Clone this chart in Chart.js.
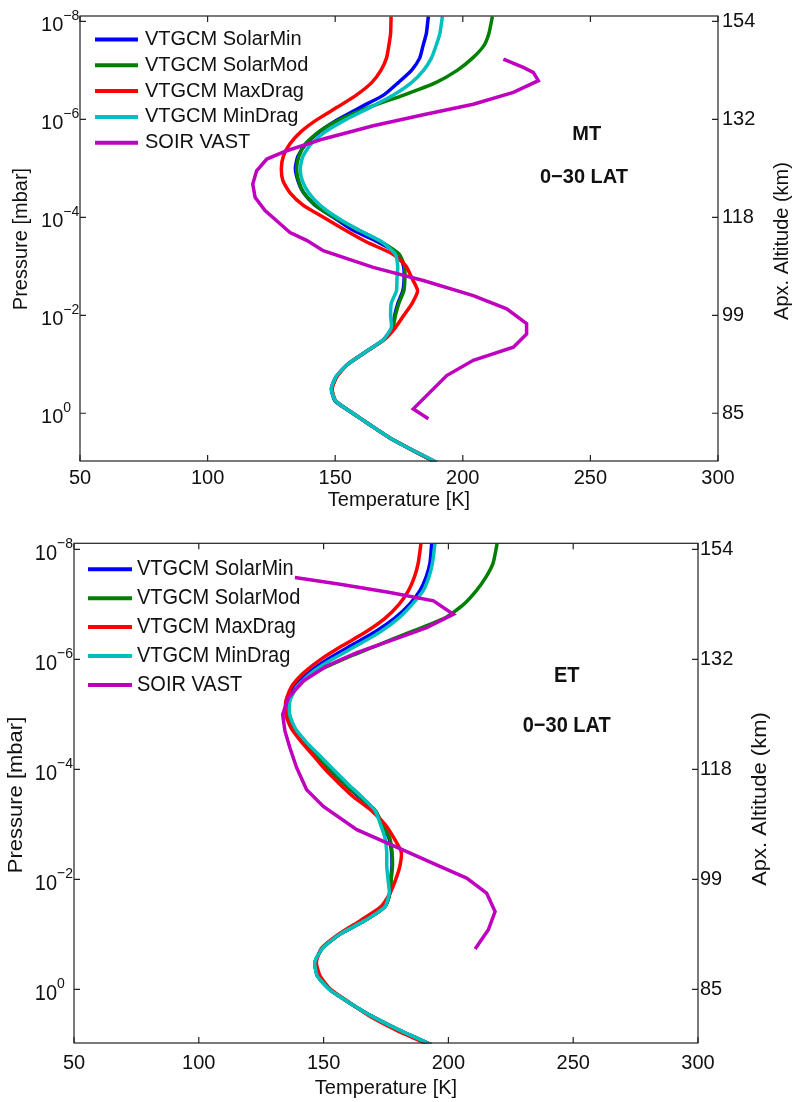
<!DOCTYPE html>
<html><head><meta charset="utf-8">
<script src="https://cdn.jsdelivr.net/npm/chart.js@4.4.1/dist/chart.umd.min.js"></script>
<style>
html,body{margin:0;padding:0;background:#fff;width:794px;height:1102px;overflow:hidden;position:relative}
canvas{position:absolute;left:0}
#c1{top:0}
#c2{top:525px}
</style></head><body>
<canvas id="c1" width="794" height="520"></canvas>
<canvas id="c2" width="794" height="577"></canvas>
<script>
// ---- data ----
const pressureLevels = [7.94e-9, 1.78e-8, 3.16e-8, 5.62e-8, 1e-7, 1.78e-7, 3.16e-7, 5.62e-7, 1e-6, 1.78e-6, 3.16e-6, 5.62e-6, 1e-5, 1.78e-5, 3.16e-5, 5.62e-5, 1e-4, 1.78e-4, 3.16e-4, 5.62e-4, 1e-3, 1.78e-3, 3.16e-3, 5.62e-3, 1e-2, 1.78e-2, 3.16e-2, 5.62e-2, 0.1, 0.178, 0.316, 0.562, 1, 1.78, 3.16, 5.62, 10];

const mtSolarMin = [186.5, 185.7, 184.4, 183.1, 179.9, 174.7, 169.1, 160.0, 151.2, 143.9, 138.6, 135.4, 134.4, 135.4, 137.6, 142.0, 149.3, 156.5, 166.5, 174.8, 176.8, 177.0, 176.5, 174.6, 173.3, 172.4, 168.9, 161.9, 154.9, 150.4, 148.5, 150.0, 156.9, 164.0, 171.3, 180.1, 189.4];
const mtSolarMod = [211.6, 210.2, 208.2, 203.8, 197.8, 189.4, 177.1, 163.4, 151.9, 143.6, 138.3, 135.8, 134.9, 135.6, 137.7, 142.2, 149.6, 158.9, 168.0, 175.0, 177.2, 177.3, 176.9, 175.0, 173.6, 172.6, 169.0, 161.9, 154.9, 150.6, 148.7, 150.1, 156.9, 164.0, 171.3, 180.1, 189.4];
const mtMaxDrag = [171.9, 171.7, 171.0, 170.1, 167.9, 164.3, 158.4, 150.9, 143.0, 136.6, 132.3, 129.7, 128.9, 129.5, 132.3, 137.4, 145.4, 153.5, 162.1, 172.5, 177.8, 180.1, 182.3, 180.2, 176.9, 173.6, 169.2, 161.9, 154.9, 150.7, 148.8, 150.2, 156.9, 164.0, 171.3, 180.2, 189.5];
const mtMinDrag = [192.0, 191.0, 189.5, 187.7, 184.6, 179.9, 173.0, 163.9, 154.3, 146.2, 140.6, 137.4, 136.3, 137.1, 139.6, 144.0, 150.6, 158.8, 168.2, 173.5, 174.5, 174.2, 174.0, 172.0, 171.7, 172.0, 168.9, 161.9, 154.9, 150.4, 148.5, 150.2, 156.9, 164.0, 171.3, 180.2, 189.9];
const mtSoirP = [5.89e-8, 8.71e-8, 1.10e-7, 1.62e-7, 2.82e-7, 4.90e-7, 7.76e-7, 1.35e-6, 2.51e-6, 4.37e-6, 6.46e-6, 1.12e-5, 2.09e-5, 3.89e-5, 7.24e-5, 1.35e-4, 2.04e-4, 2.95e-4, 4.79e-4, 1.05e-3, 1.95e-3, 3.98e-3, 7.41e-3, 1.48e-2, 2.40e-2, 4.47e-2, 8.32e-2, 0.170, 0.813, 1.29];
const mtSoirT = [215.9, 223.7, 227.6, 229.6, 219.8, 204.1, 185.9, 164.9, 145.3, 131.0, 123.2, 119.2, 117.7, 118.6, 122.5, 128.4, 132.3, 138.8, 145.3, 164.9, 184.5, 204.1, 217.2, 225.0, 225.0, 219.8, 204.1, 193.7, 180.6, 186.5];

const etSolarMin = [193.3, 192.6, 191.1, 188.6, 184.4, 178.5, 170.7, 161.0, 151.5, 143.8, 138.4, 135.8, 135.6, 137.8, 142.0, 147.2, 152.3, 158.0, 164.2, 170.6, 173.4, 176.2, 177.2, 177.4, 176.9, 176.5, 174.5, 166.5, 156.4, 149.6, 146.6, 147.5, 152.4, 160.6, 169.8, 180.7, 193.0];
const etSolarMod = [219.5, 217.9, 215.1, 211.2, 206.1, 198.5, 184.9, 171.3, 157.8, 146.0, 139.3, 136.4, 136.0, 137.8, 142.0, 147.3, 152.4, 158.1, 164.6, 170.7, 173.6, 176.5, 177.4, 177.6, 177.1, 176.6, 174.5, 166.5, 156.4, 149.6, 146.6, 147.5, 152.4, 160.6, 169.8, 180.7, 193.0];
const etMaxDrag = [189.0, 187.9, 186.4, 184.0, 180.2, 174.7, 167.0, 157.6, 148.9, 141.9, 137.1, 134.9, 134.8, 137.0, 141.1, 145.9, 150.6, 156.1, 162.0, 169.2, 174.6, 178.2, 181.1, 180.6, 178.9, 176.6, 172.9, 164.7, 155.9, 149.2, 147.1, 148.5, 152.8, 160.7, 168.9, 179.5, 192.0];
const etMinDrag = [194.6, 193.6, 192.2, 189.9, 185.5, 180.1, 172.7, 163.3, 153.4, 145.0, 139.3, 136.5, 136.4, 138.6, 143.0, 148.4, 153.9, 159.4, 165.3, 170.6, 172.8, 174.6, 175.3, 175.3, 175.8, 176.3, 174.5, 166.5, 156.4, 149.6, 146.5, 147.4, 152.3, 160.6, 169.8, 180.8, 193.0];
const etSoirP = [3.26e-8, 4.32e-8, 6.11e-8, 8.65e-8, 1.52e-7, 2.65e-7, 4.62e-7, 7.53e-7, 1.32e-6, 2.47e-6, 4.97e-6, 1.0e-5, 2.0e-5, 4.04e-5, 9.33e-5, 2.34e-4, 4.71e-4, 1.25e-3, 2.77e-3, 5.82e-3, 9.46e-3, 1.77e-2, 3.84e-2, 8.26e-2, 0.185];
const etSoirT = [138.5, 156.6, 176.6, 194.0, 202.0, 191.3, 176.6, 163.3, 151.2, 141.9, 135.9, 133.6, 134.5, 136.5, 139.2, 143.2, 149.9, 163.3, 180.6, 196.6, 207.3, 215.3, 218.7, 216.0, 210.7];

const seriesLabels = ['VTGCM SolarMin', 'VTGCM SolarMod', 'VTGCM MaxDrag', 'VTGCM MinDrag', 'SOIR VAST'];
const seriesColors = ['#0000FF', '#008000', '#FF0000', '#00BFBF', '#BF00BF'];
const tempTicks = [50, 100, 150, 200, 250, 300];
const pressureTicks = [1e-8, 1e-6, 1e-4, 1e-2, 1];
const pressureExponents = ['\u22128', '\u22126', '\u22124', '\u22122', '0'];
const altitudeLabels = ['154', '132', '118', '99', '85'];
const P_MIN = 7.76e-9, P_MAX = 9.44;

// ---- rendering ----
const FONT = '"Liberation Sans", Arial, Helvetica, sans-serif';
const TXT = '#111111';
const AXIS = '#222222';

function lineSet(i, temps, pres, tension) {
  return {
    label: seriesLabels[i],
    data: temps.map((t, k) => ({ x: t, y: pres[k] })),
    borderColor: seriesColors[i], backgroundColor: seriesColors[i],
    showLine: true, pointRadius: 0, pointHoverRadius: 0, borderWidth: 3.5,
    tension: tension, order: 4 - i, clip: 1
  };
}

function txt(ctx, s, x, y, sy, rot) {
  ctx.save();
  ctx.translate(x, y);
  if (rot) { ctx.rotate(rot); ctx.scale(sy, 1); } else { ctx.scale(1, sy); }
  ctx.fillText(s, 0, 0);
  ctx.restore();
}

function decor(o) {
  return {
    id: 'decor',
    afterDraw(chart) {
      const ctx = chart.ctx, a = chart.chartArea;
      const xs = chart.scales.x, ys = chart.scales.y;
      ctx.save();
      // frame + inward ticks
      ctx.strokeStyle = AXIS; ctx.lineWidth = 1.2;
      ctx.strokeRect(a.left, a.top, a.right - a.left, a.bottom - a.top);
      ctx.beginPath();
      tempTicks.forEach(v => {
        const px = xs.getPixelForValue(v);
        ctx.moveTo(px, a.bottom); ctx.lineTo(px, a.bottom - 6);
        ctx.moveTo(px, a.top); ctx.lineTo(px, a.top + 6);
      });
      pressureTicks.forEach(v => {
        const py = ys.getPixelForValue(v);
        ctx.moveTo(a.left, py); ctx.lineTo(a.left + 6, py);
        ctx.moveTo(a.right, py); ctx.lineTo(a.right - 6, py);
      });
      ctx.stroke();
      // left tick labels 10^n
      ctx.fillStyle = TXT;
      ctx.textBaseline = 'middle';
      pressureTicks.forEach((v, i) => {
        const py = ys.getPixelForValue(v);
        ctx.font = '20px ' + FONT; ctx.textAlign = 'right';
        txt(ctx, '10', a.left - o.expGap, py + 4 * o.sy, o.sy);
        ctx.font = '14px ' + FONT; ctx.textAlign = 'left';
        txt(ctx, pressureExponents[i], a.left - o.expGap, py - 5 * o.sy, o.sy);
      });
      // axis titles (rotated, bottom-to-top)
      ctx.font = '20px ' + FONT; ctx.textAlign = 'center';
      txt(ctx, 'Pressure [mbar]', o.lTitle[0], o.lTitle[1], o.sy, -Math.PI / 2);
      txt(ctx, 'Apx. Altitude (km)', o.rTitle[0], o.rTitle[1], o.sy, -Math.PI / 2);
      // annotations
      ctx.font = 'bold 20px ' + FONT;
      txt(ctx, o.tag, o.tagPos[0], o.tagPos[1], o.sy);
      txt(ctx, '0\u221230 LAT', o.latPos[0], o.latPos[1], o.sy);
      // legend
      ctx.font = '20px ' + FONT; ctx.textAlign = 'left';
      chart.data.datasets.forEach((ds, i) => {
        const y = o.legY0 + i * o.legDy;
        ctx.strokeStyle = ds.borderColor; ctx.lineWidth = 4;
        ctx.beginPath(); ctx.moveTo(o.legX0, y); ctx.lineTo(o.legX1, y); ctx.stroke();
        txt(ctx, ds.label, o.legTX, y, o.sy);
      });
      ctx.restore();
    }
  };
}

function build(canvas, datasets, o) {
  const tickFont = { family: FONT, size: 20 };
  return new Chart(canvas, {
    type: 'scatter',
    data: { datasets: datasets },
    options: {
      responsive: false, animation: false, devicePixelRatio: 1,
      layout: { padding: { top: o.top, left: 0, right: 0, bottom: 0 } },
      plugins: { legend: { display: false }, tooltip: { enabled: false } },
      scales: {
        x: {
          type: 'linear', position: 'bottom', min: 50, max: 300,
          afterBuildTicks(s) { s.ticks = tempTicks.map(v => ({ value: v })); },
          grid: { display: false, drawTicks: false }, border: { display: false },
          ticks: { font: tickFont, color: TXT, padding: o.xTickPad, maxRotation: 0, autoSkip: false },
          title: { display: true, text: 'Temperature [K]', font: tickFont, color: TXT, padding: { top: 0, bottom: o.xTitlePad } },
          afterFit(s) { s.height = o.xH; }
        },
        y: {
          type: 'logarithmic', position: 'left', min: P_MIN, max: P_MAX, reverse: true,
          grid: { display: false, drawTicks: false }, border: { display: false },
          ticks: { display: false },
          afterFit(s) { s.width = o.yW; }
        },
        y2: {
          type: 'logarithmic', position: 'right', min: P_MIN, max: P_MAX, reverse: true,
          grid: { display: false, drawTicks: false }, border: { display: false },
          afterBuildTicks(s) { s.ticks = pressureTicks.map(v => ({ value: v })); },
          ticks: { font: tickFont, color: TXT, padding: o.rTickPad, autoSkip: false, callback: (v, i) => altitudeLabels[i] },
          afterFit(s) { s.width = o.y2W; }
        }
      }
    },
    plugins: [decor(o)]
  });
}

build(document.getElementById('c1'), [
  lineSet(0, mtSolarMin, pressureLevels, 0.2),
  lineSet(1, mtSolarMod, pressureLevels, 0.2),
  lineSet(2, mtMaxDrag, pressureLevels, 0.2),
  lineSet(3, mtMinDrag, pressureLevels, 0.2),
  lineSet(4, mtSoirT, mtSoirP, 0)
], {
  top: 15.7, xH: 59, yW: 80, y2W: 76, xTickPad: 5, xTitlePad: 8, rTickPad: 4,
  sy: 1, expGap: 16.7, lTitle: [21, 239], rTitle: [782, 241],
  tag: 'MT', tagPos: [586.7, 134.5], latPos: [584, 177],
  legX0: 95, legX1: 138, legTX: 145, legY0: 39.5, legDy: 25.8
});

build(document.getElementById('c2'), [
  lineSet(0, etSolarMin, pressureLevels, 0.2),
  lineSet(1, etSolarMod, pressureLevels, 0.2),
  lineSet(2, etMaxDrag, pressureLevels, 0.2),
  lineSet(3, etMinDrag, pressureLevels, 0.2),
  lineSet(4, etSoirT, etSoirP, 0)
], {
  top: 18.3, xH: 59, yW: 74, y2W: 96, xTickPad: 8, xTitlePad: 2, rTickPad: 2,
  sy: 1.1, expGap: 17, lTitle: [16.5, 270], rTitle: [760.5, 274],
  tag: 'ET', tagPos: [566.7, 150.5], latPos: [566.7, 200.5],
  legX0: 88, legX1: 132, legTX: 137, legY0: 44.3, legDy: 28.9
});
</script>
</body></html>
